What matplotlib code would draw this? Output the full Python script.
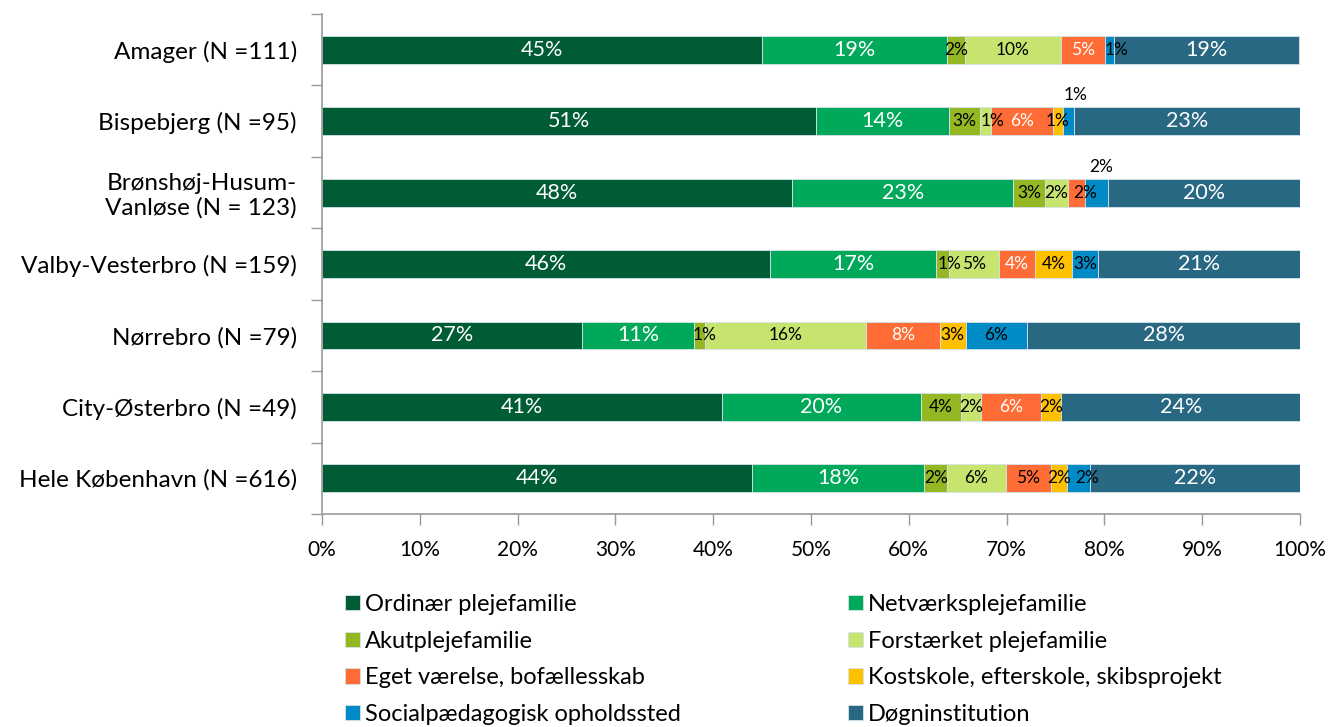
import matplotlib
matplotlib.use("Agg")
import matplotlib.pyplot as plt
import numpy as np

plt.rcParams['font.family'] = ['Lato', 'DejaVu Sans']

areas = ["Amager (N =111)", "Bispebjerg (N =95)", "Brønshøj-Husum-\nVanløse (N = 123)",
         "Valby-Vesterbro (N =159)", "Nørrebro (N =79)", "City-Østerbro (N =49)",
         "Hele København (N =616)"]

series = ["Ordinær plejefamilie", "Netværksplejefamilie", "Akutplejefamilie",
          "Forstærket plejefamilie", "Eget værelse, bofællesskab",
          "Kostskole, efterskole, skibsprojekt", "Socialpædagogisk opholdssted",
          "Døgninstitution"]

ordinaer    = [45.0, 50.5, 48.1, 45.8, 26.6, 40.9, 44.0]
netvaerk    = [18.9, 13.6, 22.6, 17.0, 11.4, 20.3, 17.6]
akut        = [1.8, 3.2, 3.2, 1.3, 1.2, 4.1, 2.3]
forstaerket = [9.9, 1.1, 2.4, 5.1, 16.4, 2.1, 6.0]
eget        = [4.5, 6.3, 1.7, 3.7, 7.6, 6.1, 4.6]
kostskole   = [0.0, 1.1, 0.0, 3.8, 2.6, 2.1, 1.7]
social      = [0.9, 1.1, 2.4, 2.6, 6.3, 0.0, 2.3]
doegn       = [18.9, 23.1, 19.6, 20.7, 27.9, 24.4, 21.5]

data = np.array([ordinaer, netvaerk, akut, forstaerket, eget, kostskole, social, doegn])

colors = ["#005C35", "#00A85A", "#93B824", "#C7E46E", "#FF6C35", "#FFC000",
          "#008BC6", "#286882"]
white_text = [True, True, False, False, True, False, False, True]
big_text = [True, True, False, False, False, False, False, True]

# label nudges (row, series) -> (dx in %, dy in rows)
nudge = {(0, 6): (0.7, 0), (1, 3): (0.7, 0), (1, 6): (0.7, -0.36),
         (2, 4): (0.85, 0), (2, 6): (0.45, -0.36), (3, 2): (0.7, 0),
         (4, 2): (0.5, 0), (6, 6): (0.85, 0)}
black_override = {(2, 4), (6, 4)}

fig = plt.figure(figsize=(13.3, 7.27), dpi=100)
ax = fig.add_axes([322 / 1330, 1 - 514 / 727, 978 / 1330, 500 / 727])

y = np.arange(len(areas))
left = np.zeros(len(areas))
bars = []
for j in range(len(series)):
    b = ax.barh(y, data[j], left=left, height=0.39, color=colors[j],
                edgecolor="#d5e3ea", linewidth=0.6, label=series[j])
    bars.append(b)
    for i in range(len(areas)):
        v = data[j, i]
        if v <= 0:
            continue
        dx, dy = nudge.get((i, j), (0, 0))
        c = "white" if white_text[j] else "black"
        if (i, j) in black_override or dy != 0:
            c = "black"
        ax.text(left[i] + v / 2 + dx, y[i] + dy, f"{int(v + 0.5)}%",
                ha="center", va="center", color=c,
                fontsize=15.5 if big_text[j] else 12.5)
    left += data[j]

ax.set_xlim(0, 100)
ax.set_ylim(len(areas) - 0.5, -0.5)
ax.set_xticks(np.arange(0, 101, 10))
ax.set_xticklabels([f"{t}%" for t in range(0, 101, 10)], fontsize=15)
ax.set_yticks(y)
ax.set_yticklabels(areas, fontsize=17.5, ha="right", linespacing=1.15)
ax.set_yticks(np.arange(-0.5, len(areas), 1), minor=True)
ax.tick_params(axis="y", which="major", length=0, pad=18)
ax.tick_params(axis="y", which="minor", length=8, color="#999999", width=1)
ax.tick_params(axis="x", length=8, color="#999999", width=1, pad=11)
for s in ["top", "right"]:
    ax.spines[s].set_visible(False)
for s in ["left", "bottom"]:
    ax.spines[s].set_color("#999999")
    ax.spines[s].set_linewidth(1.2)

leg_kw = dict(loc="upper left", frameon=False, fontsize=17, handlelength=0.62,
              handleheight=0.62, handletextpad=0.22, labelspacing=0.66,
              borderaxespad=0, borderpad=0)
leg1 = fig.legend([bars[k] for k in (0, 2, 4, 6)], [series[k] for k in (0, 2, 4, 6)],
                  bbox_to_anchor=(345 / 1330, 1 - 594 / 727), **leg_kw)
leg2 = fig.legend([bars[k] for k in (1, 3, 5, 7)], [series[k] for k in (1, 3, 5, 7)],
                  bbox_to_anchor=(848 / 1330, 1 - 594 / 727), **leg_kw)

fig.savefig("out.png", dpi=100)
